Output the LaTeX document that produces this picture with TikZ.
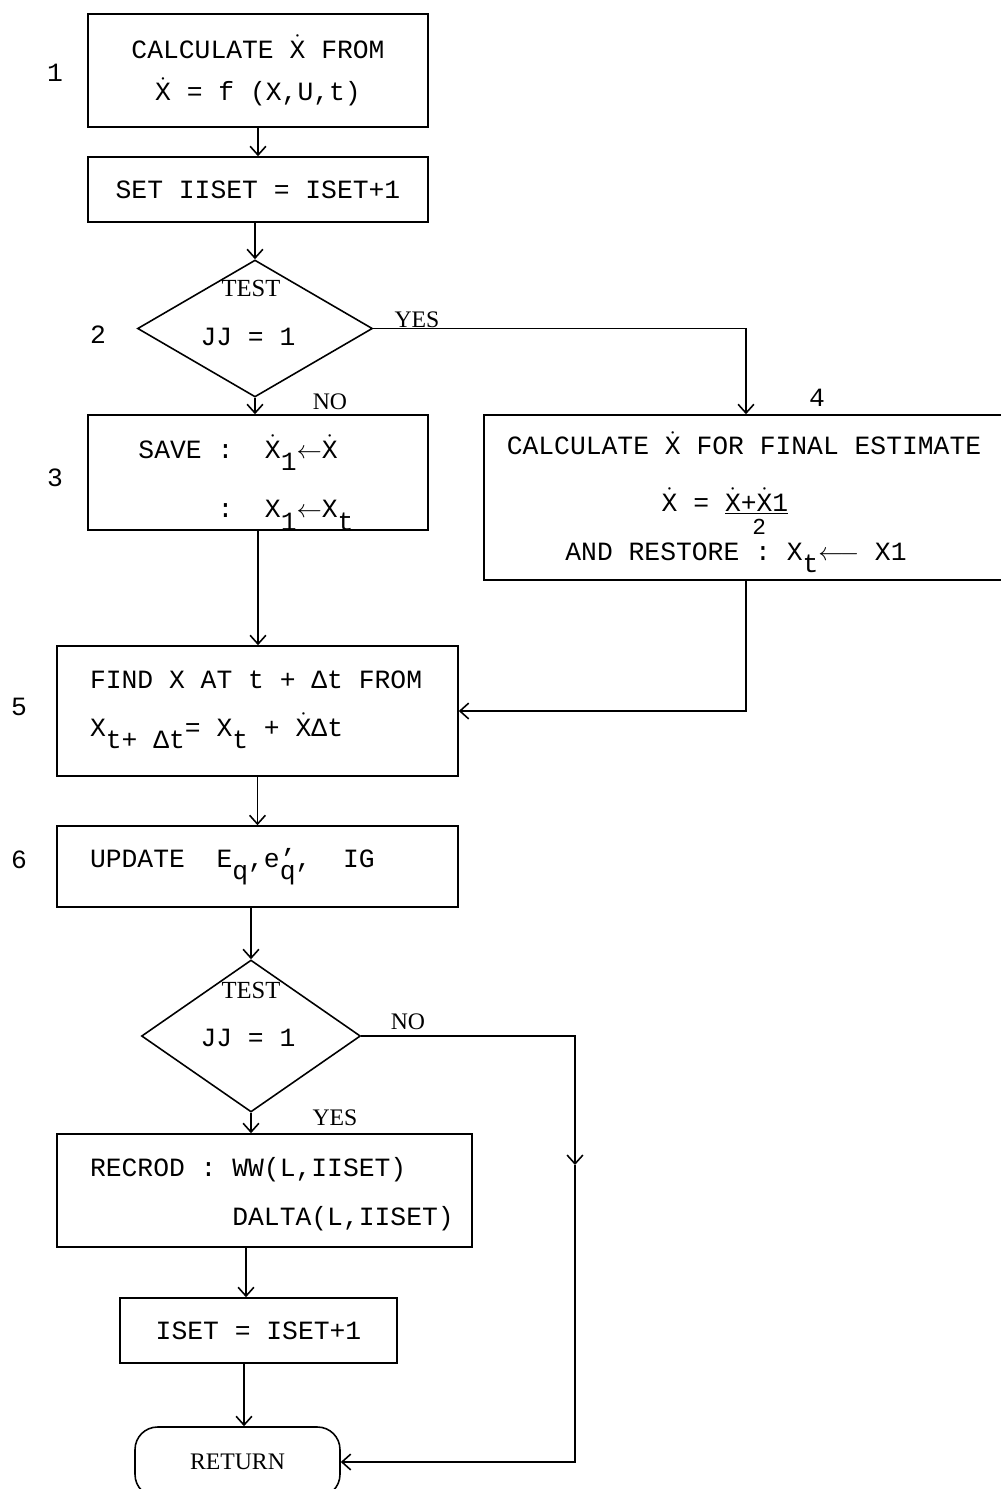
\documentclass[tikz,border=0pt]{standalone}
\usepackage{fontspec}
\setmainfont{Liberation Mono}[WordSpace={1,0,0}]
\newfontfamily\labelserif{Liberation Serif}
\usetikzlibrary{shapes.geometric, arrows.meta, positioning}

\newcommand{\xd}{\ensuremath{\dot{\hbox{X}}}}
\newcommand{\lowr}[1]{\raisebox{-7pt}{#1}}
\newcommand{\halfx}{\rlap{\hbox to 2.6em{\hss\smash{\raisebox{-13pt}{\fontsize{13}{13}\selectfont 2}}\hss}}\underline{\xd+\xd 1}}
\newcommand{\dropby}[2]{\raisebox{-#1}[\height][\depth]{#2}}
\newcommand{\leftblock}[2]{\makebox[#1][l]{\begin{tabular}{@{}l@{}}#2\end{tabular}}}

\tikzset{
    procbox/.style={draw, rectangle, line width=0.9pt, inner sep=0pt, font=\fontsize{15}{24}\selectfont},
    testbox/.style={draw, diamond, line width=0.9pt, inner sep=0pt},
    endbox/.style={draw, rectangle, rounded corners=0.45cm, line width=0.9pt, inner sep=0pt},
    boxtext/.style={font=\fontsize{15}{24}\selectfont},
    branch/.style={font=\labelserif\fontsize{13.5}{16}\selectfont},
    flow/.style={draw, line width=0.9pt, -{Straight Barb[length=5pt,width=9pt]}}
}

\begin{document}
\begin{tikzpicture}[x=0.02cm, y=-0.02cm]
    \useasboundingbox (0,0) rectangle (1001,1489);
    \clip (0,0) rectangle (1001,1489);

    % Main column
    \node[procbox, minimum width=6.8cm, minimum height=2.26cm, align=center] (calc) at (258,70.5)
        {CALCULATE \xd{} FROM\\\xd{} = f (X,U,t)};
    \node[procbox, minimum width=6.8cm, minimum height=1.3cm] (setii) at (258,189.5) {SET IISET = ISET+1};
    \node[testbox, minimum width=4.7cm, minimum height=2.74cm] (test1) at (255,328.5) {};
    \node[branch, font=\labelserif\fontsize{14}{16}\selectfont] (test1t) at (251,288) {TEST};
    \node[boxtext] (test1j) at (248,337) {JJ = 1};
    \node[procbox, minimum width=6.8cm, minimum height=2.3cm] (save) at (258,472.5)
        {\hspace*{-0.48cm}\dropby{4pt}{\begin{tabular}{@{}l@{\ }l@{\ \ }l@{}}
            SAVE & : & \xd\lowr{1}$\leftarrow$\xd\\[10pt]
                 & : & X\lowr{1}$\leftarrow$X\lowr{t}
        \end{tabular}}};

    % Final estimate branch
    \node[procbox, minimum width=10.48cm, minimum height=3.3cm] (final) at (746,497.5)
        {\hspace*{-0.4cm}\dropby{1pt}{\begin{tabular}{@{}c@{}}
            \hspace*{0.32cm}CALCULATE \xd{} FOR FINAL ESTIMATE\\[8pt]
            \hspace*{-0.44cm}\xd{} = \halfx\\[4pt]
            AND RESTORE : X\lowr{t}$\longleftarrow$ X1
        \end{tabular}}};

    \node[procbox, minimum width=8.02cm, minimum height=2.6cm] (step) at (257.5,711)
        {\dropby{-4pt}{\leftblock{6.7cm}{FIND X AT t + Δt FROM\\[3pt]
         X\lowr{t+ Δt}= X\lowr{t} + \xd Δt}}};
    \node[procbox, minimum width=8.02cm, minimum height=1.62cm] (upd) at (257.5,866.5)
        {\makebox[6.7cm][l]{UPDATE\ \ E\lowr{q},e\rlap{’}\lowr{q}, \ IG}};
    \node[testbox, minimum width=4.38cm, minimum height=3.04cm] (test2) at (251,1036) {};
    \node[branch, font=\labelserif\fontsize{14}{16}\selectfont] (test2t) at (251,990) {TEST};
    \node[boxtext] (test2j) at (248,1038) {JJ = 1};
    \node[procbox, minimum width=8.3cm, minimum height=2.26cm] (rec) at (264.5,1190.5)
        {\dropby{1pt}{\leftblock{6.98cm}{RECROD : WW(L,IISET)\\[4pt]
         \phantom{RECROD : }DALTA(L,IISET)}}};
    \node[procbox, minimum width=5.54cm, minimum height=1.3cm] (inc) at (258.5,1330.5) {ISET = ISET+1};
    \node[endbox, minimum width=4.1cm, minimum height=1.4cm, branch] (ret) at (237.5,1462) {RETURN};

    % Step numbers
    \node[boxtext] (n1) at (55,73) {1};
    \node[boxtext] (n2) at (98,335) {2};
    \node[boxtext] (n3) at (55,478) {3};
    \node[boxtext] (n4) at (817,398) {4};
    \node[boxtext] (n5) at (19,707) {5};
    \node[boxtext] (n6) at (19,860) {6};

    % Branch labels
    \node[branch] (yes1) at (417,320) {YES};
    \node[branch] (no1) at (330,402) {NO};
    \node[branch] (no2) at (408,1022) {NO};
    \node[branch] (yes2) at (335,1118) {YES};

    % Connectors
    \draw[flow] (calc) -- (setii);
    \draw[flow] (setii.south -| test1.north) -- (test1.north);
    \draw[flow] (test1.south) -- (test1.south |- save.north);
    \draw[flow] (test1.east) -| (final.north);
    \draw[flow] (save.south) -- (save.south |- step.north);
    \draw[flow] (final.south) |- (step.east);
    \draw[flow] (step) -- (upd);
    \draw[flow] (upd.south -| test2.north) -- (test2.north);
    \draw[flow] (test2.south) -- (test2.south |- rec.north);
    \coordinate (skip) at (575,1165);
    \draw[flow] (test2.east) -| (skip);
    \draw[flow] (skip) |- (ret.east);
    \draw[flow] ([xshift=-0.37cm]rec.south) -- ([xshift=-0.25cm]inc.north);
    \draw[flow] ([xshift=-0.29cm]inc.south) -- ([xshift=0.13cm]ret.north);
\end{tikzpicture}
\end{document}
